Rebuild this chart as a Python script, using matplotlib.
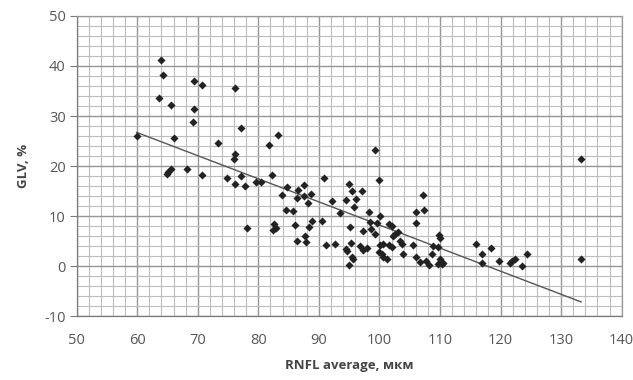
import numpy as np
import matplotlib.pyplot as plt
from matplotlib.ticker import MultipleLocator

plt.rcParams['axes.unicode_minus'] = False

# RNFL average (мкм) vs GLV (%)
rnfl = [59.9, 63.6, 63.9, 64.3, 64.9, 65.1, 65.5, 65.6, 66.1, 68.2,
        69.2, 69.3, 69.4, 70.7, 70.7, 73.3, 74.9, 76.0, 76.1, 76.2,
        76.2, 77.2, 77.2, 77.8, 78.2, 79.6, 80.5,
        81.8, 82.2, 83.3, 82.4, 82.6, 82.9, 83.9, 84.7, 84.5, 85.8,
        86.1, 86.3, 86.3, 86.5, 87.6, 87.6, 87.7, 87.8, 88.2, 88.4,
        88.7, 88.9,
        90.5, 90.8, 91.1, 92.2, 92.6, 93.4, 94.4, 94.4, 94.7, 94.9,
        95.0, 95.1, 95.3, 95.4, 95.4, 95.7, 95.8, 96.1, 96.8, 97.1,
        97.3, 97.3, 97.9, 98.3, 98.4, 98.6, 99.3, 99.3, 99.6, 99.9,
        100.1, 100.1, 100.6, 99.9, 100.4, 100.6, 101.2, 101.5, 102.0, 101.5,
        102.0, 102.3, 102.6, 103.0, 103.4, 103.7, 103.9, 105.6, 106.0, 106.0,
        106.0, 106.7, 107.2, 107.3, 107.7, 108.2, 108.6, 108.9, 109.6, 109.9,
        110.0, 110.0, 110.3, 110.5, 109.7,
        115.9, 116.9, 116.9, 118.4, 119.8, 121.5, 121.9, 122.4, 123.6, 124.4,
        133.3, 133.3]
glv = [26.1, 33.7, 41.1, 38.1, 18.5, 18.9, 19.5, 32.3, 25.7, 19.4,
       28.9, 37.1, 31.5, 36.2, 18.3, 24.7, 17.7, 21.4, 22.4, 35.7,
       16.5, 27.7, 18.0, 16.0, 7.7, 16.8, 16.9,
       24.3, 18.2, 26.2, 7.2, 8.5, 7.7, 14.2, 15.8, 11.2, 11.1,
       8.3, 5.0, 13.6, 15.2, 16.3, 14.0, 6.0, 4.8, 12.7, 7.8,
       14.5, 9.1,
       9.1, 17.7, 4.2, 13.1, 4.5, 10.6, 13.2, 3.5, 3.1, 16.5,
       0.2, 7.9, 4.6, 15.0, 1.9, 1.4, 11.9, 13.5, 4.0, 15.1,
       7.1, 3.3, 3.6, 10.9, 8.9, 7.5, 23.3, 6.4, 8.7, 17.2,
       10.0, 4.2, 4.5, 2.9, 2.4, 1.9, 1.4, 8.5, 8.1, 4.2,
       3.9, 6.0, 6.4, 6.8, 5.1, 4.4, 2.4, 4.2, 10.9, 8.7,
       1.9, 0.8, 14.3, 11.2, 1.0, 0.2, 2.4, 4.0, 3.9, 6.3,
       5.7, 1.5, 0.4, 0.7, 0.5,
       4.5, 2.4, 0.6, 3.6, 1.1, 0.7, 1.1, 1.4, 0.0, 2.5,
       21.4, 1.4]

# linear trend line as drawn in the source
trend_slope = -0.462
trend_intercept = 54.4

fig = plt.figure(figsize=(6.33, 3.8), dpi=100)
ax = fig.add_axes([0.1212, 0.1684, 0.8609, 0.7895])

font = 'Open Sans'

ax.scatter(rnfl, glv, marker='D', s=17, color='#222222', linewidths=0, zorder=3)

tx = np.array([min(rnfl), max(rnfl)])
ax.plot(tx, trend_slope * tx + trend_intercept, color='#555555', lw=1.0, zorder=2)

ax.set_xlim(50, 140)
ax.set_ylim(-10, 50)
ax.xaxis.set_major_locator(MultipleLocator(10))
ax.yaxis.set_major_locator(MultipleLocator(10))
ax.xaxis.set_minor_locator(MultipleLocator(2))
ax.yaxis.set_minor_locator(MultipleLocator(2))

ax.grid(which='major', color='#969696', lw=1.0)
ax.grid(which='minor', color='#bdbdbd', lw=0.8)
ax.set_axisbelow(True)

for s in ax.spines.values():
    s.set_color('#9a9a9a')
    s.set_linewidth(0.9)
ax.spines['left'].set_color('#7a7a7a')
ax.spines['bottom'].set_color('#7a7a7a')

ax.tick_params(which='minor', length=0)
ax.tick_params(axis='y', which='major', length=5, color='#7a7a7a', pad=3)
ax.tick_params(axis='x', which='major', length=0, pad=12)
for lab in ax.get_xticklabels() + ax.get_yticklabels():
    lab.set_fontfamily(font)
    lab.set_fontsize(10.5)
    lab.set_color('#555555')

ax.set_xlabel('RNFL average, мкм', fontfamily=font, fontsize=9.5,
              fontweight='bold', color='#444444', labelpad=8)
ax.set_ylabel('GLV, %', fontfamily=font, fontsize=9.5,
              fontweight='bold', color='#444444', labelpad=10)

fig.savefig('out.png', dpi=100)
